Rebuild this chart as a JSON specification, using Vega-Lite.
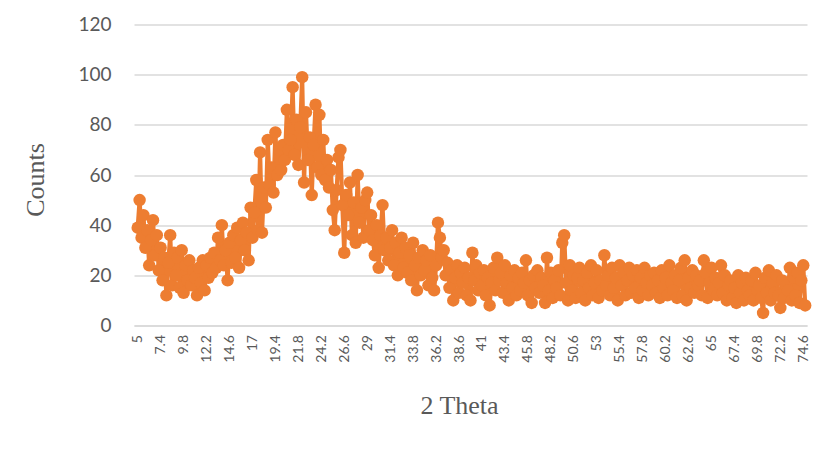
{
  "$schema": "https://vega.github.io/schema/vega-lite/v6.json",
  "autosize": {"type": "none"},
  "width": 673,
  "height": 301,
  "padding": {"left": 134, "top": 24.5, "right": 15, "bottom": 133.5},
  "background": "white",
  "config": {"view": {"stroke": null}},
  "data": {"values": [
    {"t":5.0,"c":39},{"t":5.2,"c":50},{"t":5.4,"c":35},{"t":5.6,"c":44},{"t":5.8,"c":31},{"t":6.0,"c":38},{"t":6.2,"c":24},{"t":6.4,"c":34},{"t":6.6,"c":42},{"t":6.8,"c":28},
    {"t":7.0,"c":36},{"t":7.2,"c":22},{"t":7.4,"c":31},{"t":7.6,"c":18},{"t":7.8,"c":27},{"t":8.0,"c":12},{"t":8.2,"c":25},{"t":8.4,"c":36},{"t":8.6,"c":16},{"t":8.8,"c":29},
    {"t":9.0,"c":20},{"t":9.2,"c":27},{"t":9.4,"c":15},{"t":9.6,"c":30},{"t":9.8,"c":13},{"t":10.0,"c":24},{"t":10.2,"c":18},{"t":10.4,"c":26},{"t":10.6,"c":16},{"t":10.8,"c":22},
    {"t":11.0,"c":19},{"t":11.2,"c":12},{"t":11.4,"c":23},{"t":11.6,"c":17},{"t":11.8,"c":26},{"t":12.0,"c":14},{"t":12.2,"c":24},{"t":12.4,"c":19},{"t":12.6,"c":27},{"t":12.8,"c":21},
    {"t":13.0,"c":29},{"t":13.2,"c":23},{"t":13.4,"c":35},{"t":13.6,"c":26},{"t":13.8,"c":40},{"t":14.0,"c":24},{"t":14.2,"c":30},{"t":14.4,"c":18},{"t":14.6,"c":33},{"t":14.8,"c":25},
    {"t":15.0,"c":36},{"t":15.2,"c":27},{"t":15.4,"c":39},{"t":15.6,"c":23},{"t":15.8,"c":34},{"t":16.0,"c":41},{"t":16.2,"c":30},{"t":16.4,"c":37},{"t":16.6,"c":26},{"t":16.8,"c":47},
    {"t":17.0,"c":35},{"t":17.2,"c":45},{"t":17.4,"c":58},{"t":17.6,"c":38},{"t":17.8,"c":69},{"t":18.0,"c":37},{"t":18.2,"c":55},{"t":18.4,"c":47},{"t":18.6,"c":74},{"t":18.8,"c":56},
    {"t":19.0,"c":63},{"t":19.2,"c":53},{"t":19.4,"c":77},{"t":19.6,"c":60},{"t":19.8,"c":70},{"t":20.0,"c":62},{"t":20.2,"c":72},{"t":20.4,"c":66},{"t":20.6,"c":86},{"t":20.8,"c":70},
    {"t":21.0,"c":74},{"t":21.2,"c":95},{"t":21.4,"c":68},{"t":21.6,"c":82},{"t":21.8,"c":64},{"t":22.0,"c":79},{"t":22.2,"c":99},{"t":22.4,"c":57},{"t":22.6,"c":85},{"t":22.8,"c":66},
    {"t":23.0,"c":75},{"t":23.2,"c":52},{"t":23.4,"c":72},{"t":23.6,"c":88},{"t":23.8,"c":63},{"t":24.0,"c":84},{"t":24.2,"c":60},{"t":24.4,"c":74},{"t":24.6,"c":58},{"t":24.8,"c":66},
    {"t":25.0,"c":55},{"t":25.2,"c":62},{"t":25.4,"c":46},{"t":25.6,"c":38},{"t":25.8,"c":54},{"t":26.0,"c":67},{"t":26.2,"c":70},{"t":26.4,"c":48},{"t":26.6,"c":29},{"t":26.8,"c":52},
    {"t":27.0,"c":44},{"t":27.2,"c":57},{"t":27.4,"c":36},{"t":27.6,"c":49},{"t":27.8,"c":33},{"t":28.0,"c":60},{"t":28.2,"c":41},{"t":28.4,"c":47},{"t":28.6,"c":35},{"t":28.8,"c":50},
    {"t":29.0,"c":53},{"t":29.2,"c":38},{"t":29.4,"c":44},{"t":29.6,"c":34},{"t":29.8,"c":28},{"t":30.0,"c":40},{"t":30.2,"c":23},{"t":30.4,"c":36},{"t":30.6,"c":48},{"t":30.8,"c":30},
    {"t":31.0,"c":35},{"t":31.2,"c":26},{"t":31.4,"c":31},{"t":31.6,"c":38},{"t":31.8,"c":24},{"t":32.0,"c":33},{"t":32.2,"c":20},{"t":32.4,"c":29},{"t":32.6,"c":35},{"t":32.8,"c":23},
    {"t":33.0,"c":31},{"t":33.2,"c":21},{"t":33.4,"c":28},{"t":33.6,"c":18},{"t":33.8,"c":33},{"t":34.0,"c":24},{"t":34.2,"c":14},{"t":34.4,"c":27},{"t":34.6,"c":20},{"t":34.8,"c":30},
    {"t":35.0,"c":22},{"t":35.2,"c":26},{"t":35.4,"c":16},{"t":35.6,"c":28},{"t":35.8,"c":19},{"t":36.0,"c":14},{"t":36.2,"c":24},{"t":36.4,"c":41},{"t":36.6,"c":35},{"t":36.8,"c":27},
    {"t":37.0,"c":30},{"t":37.2,"c":20},{"t":37.4,"c":25},{"t":37.6,"c":15},{"t":37.8,"c":22},{"t":38.0,"c":10},{"t":38.2,"c":19},{"t":38.4,"c":24},{"t":38.6,"c":13},{"t":38.8,"c":21},
    {"t":39.0,"c":17},{"t":39.2,"c":23},{"t":39.4,"c":12},{"t":39.6,"c":19},{"t":39.8,"c":10},{"t":40.0,"c":29},{"t":40.2,"c":18},{"t":40.4,"c":24},{"t":40.6,"c":14},{"t":40.8,"c":21},
    {"t":41.0,"c":16},{"t":41.2,"c":22},{"t":41.4,"c":12},{"t":41.6,"c":19},{"t":41.8,"c":8},{"t":42.0,"c":17},{"t":42.2,"c":23},{"t":42.4,"c":14},{"t":42.6,"c":27},{"t":42.8,"c":18},
    {"t":43.0,"c":21},{"t":43.2,"c":13},{"t":43.4,"c":24},{"t":43.6,"c":17},{"t":43.8,"c":10},{"t":44.0,"c":20},{"t":44.2,"c":15},{"t":44.4,"c":22},{"t":44.6,"c":12},{"t":44.8,"c":19},
    {"t":45.0,"c":14},{"t":45.2,"c":21},{"t":45.4,"c":17},{"t":45.6,"c":26},{"t":45.8,"c":12},{"t":46.0,"c":18},{"t":46.2,"c":9},{"t":46.4,"c":20},{"t":46.6,"c":15},{"t":46.8,"c":22},
    {"t":47.0,"c":13},{"t":47.2,"c":19},{"t":47.4,"c":16},{"t":47.6,"c":9},{"t":47.8,"c":27},{"t":48.0,"c":14},{"t":48.2,"c":21},{"t":48.4,"c":11},{"t":48.6,"c":18},{"t":48.8,"c":15},
    {"t":49.0,"c":22},{"t":49.2,"c":12},{"t":49.4,"c":33},{"t":49.6,"c":36},{"t":49.8,"c":17},{"t":50.0,"c":10},{"t":50.2,"c":24},{"t":50.4,"c":14},{"t":50.6,"c":20},{"t":50.8,"c":11},
    {"t":51.0,"c":19},{"t":51.2,"c":23},{"t":51.4,"c":13},{"t":51.6,"c":18},{"t":51.8,"c":10},{"t":52.0,"c":21},{"t":52.2,"c":15},{"t":52.4,"c":24},{"t":52.6,"c":12},{"t":52.8,"c":17},
    {"t":53.0,"c":22},{"t":53.2,"c":11},{"t":53.4,"c":18},{"t":53.6,"c":14},{"t":53.8,"c":28},{"t":54.0,"c":16},{"t":54.2,"c":20},{"t":54.4,"c":12},{"t":54.6,"c":23},{"t":54.8,"c":15},
    {"t":55.0,"c":19},{"t":55.2,"c":10},{"t":55.4,"c":24},{"t":55.6,"c":16},{"t":55.8,"c":21},{"t":56.0,"c":12},{"t":56.2,"c":18},{"t":56.4,"c":23},{"t":56.6,"c":13},{"t":56.8,"c":20},
    {"t":57.0,"c":15},{"t":57.2,"c":22},{"t":57.4,"c":11},{"t":57.6,"c":19},{"t":57.8,"c":14},{"t":58.0,"c":23},{"t":58.2,"c":17},{"t":58.4,"c":12},{"t":58.6,"c":20},{"t":58.8,"c":16},
    {"t":59.0,"c":21},{"t":59.2,"c":13},{"t":59.4,"c":18},{"t":59.6,"c":11},{"t":59.8,"c":22},{"t":60.0,"c":15},{"t":60.2,"c":19},{"t":60.4,"c":12},{"t":60.6,"c":24},{"t":60.8,"c":17},
    {"t":61.0,"c":14},{"t":61.2,"c":20},{"t":61.4,"c":11},{"t":61.6,"c":18},{"t":61.8,"c":23},{"t":62.0,"c":12},{"t":62.2,"c":26},{"t":62.4,"c":10},{"t":62.6,"c":19},{"t":62.8,"c":15},
    {"t":63.0,"c":22},{"t":63.2,"c":13},{"t":63.4,"c":20},{"t":63.6,"c":16},{"t":63.8,"c":18},{"t":64.0,"c":12},{"t":64.2,"c":26},{"t":64.4,"c":21},{"t":64.6,"c":11},{"t":64.8,"c":17},
    {"t":65.0,"c":23},{"t":65.2,"c":14},{"t":65.4,"c":19},{"t":65.6,"c":12},{"t":65.8,"c":17},{"t":66.0,"c":24},{"t":66.2,"c":13},{"t":66.4,"c":20},{"t":66.6,"c":10},{"t":66.8,"c":16},
    {"t":67.0,"c":18},{"t":67.2,"c":11},{"t":67.4,"c":15},{"t":67.6,"c":9},{"t":67.8,"c":20},{"t":68.0,"c":13},{"t":68.2,"c":17},{"t":68.4,"c":10},{"t":68.6,"c":19},{"t":68.8,"c":14},
    {"t":69.0,"c":12},{"t":69.2,"c":18},{"t":69.4,"c":10},{"t":69.6,"c":21},{"t":69.8,"c":14},{"t":70.0,"c":16},{"t":70.2,"c":11},{"t":70.4,"c":5},{"t":70.6,"c":19},{"t":70.8,"c":13},
    {"t":71.0,"c":22},{"t":71.2,"c":10},{"t":71.4,"c":17},{"t":71.6,"c":13},{"t":71.8,"c":20},{"t":72.0,"c":12},{"t":72.2,"c":7},{"t":72.4,"c":18},{"t":72.6,"c":11},{"t":72.8,"c":16},
    {"t":73.0,"c":14},{"t":73.2,"c":23},{"t":73.4,"c":10},{"t":73.6,"c":19},{"t":73.8,"c":12},{"t":74.0,"c":21},{"t":74.2,"c":9},{"t":74.4,"c":18},{"t":74.6,"c":24},{"t":74.8,"c":8}
  ]},
  "encoding": {
    "x": {
      "field": "t", "type": "quantitative",
      "scale": {"domain": [4.613, 74.99], "nice": false, "zero": false},
      "axis": {
        "values": [5, 7.4, 9.8, 12.2, 14.6, 17, 19.4, 21.8, 24.2, 26.6, 29, 31.4, 33.8, 36.2, 38.6, 41, 43.4, 45.8, 48.2, 50.6, 53, 55.4, 57.8, 60.2, 62.6, 65, 67.4, 69.8, 72.2, 74.6],
        "format": ".3~g",
        "labelAngle": -90,
        "labelFont": "Lato",
        "labelFontSize": 14,
        "labelColor": "#595959",
        "labelPadding": 9,
        "labelOverlap": false,
        "labelFlush": false,
        "grid": false,
        "ticks": false,
        "domainColor": "#D9D9D9",
        "domainWidth": 1.5,
        "title": "2 Theta",
        "titleFont": "Liberation Serif",
        "titleFontSize": 26,
        "titleFontWeight": "normal",
        "titleColor": "#595959",
        "titleX": 325,
        "titleY": 80,
        "titleBaseline": "middle",
        "titleAlign": "center"
      }
    },
    "y": {
      "field": "c", "type": "quantitative",
      "scale": {"domain": [0, 120], "nice": false},
      "axis": {
        "values": [0, 20, 40, 60, 80, 100, 120],
        "labelFont": "Lato",
        "labelFontSize": 19,
        "labelColor": "#595959",
        "labelPadding": 23,
        "ticks": false,
        "domain": false,
        "gridColor": "#D9D9D9",
        "gridWidth": 1.3,
        "title": "Counts",
        "titleFont": "Liberation Serif",
        "titleFontSize": 26,
        "titleFontWeight": "normal",
        "titleColor": "#595959",
        "titleX": -99,
        "titleY": 155,
        "titleAngle": -90,
        "titleBaseline": "middle",
        "titleAlign": "center"
      }
    }
  },
  "layer": [
    {"mark": {"type": "line", "color": "#ED7D31", "strokeWidth": 4.2}},
    {"mark": {"type": "point", "filled": true, "color": "#ED7D31", "size": 155, "opacity": 1}}
  ]
}
